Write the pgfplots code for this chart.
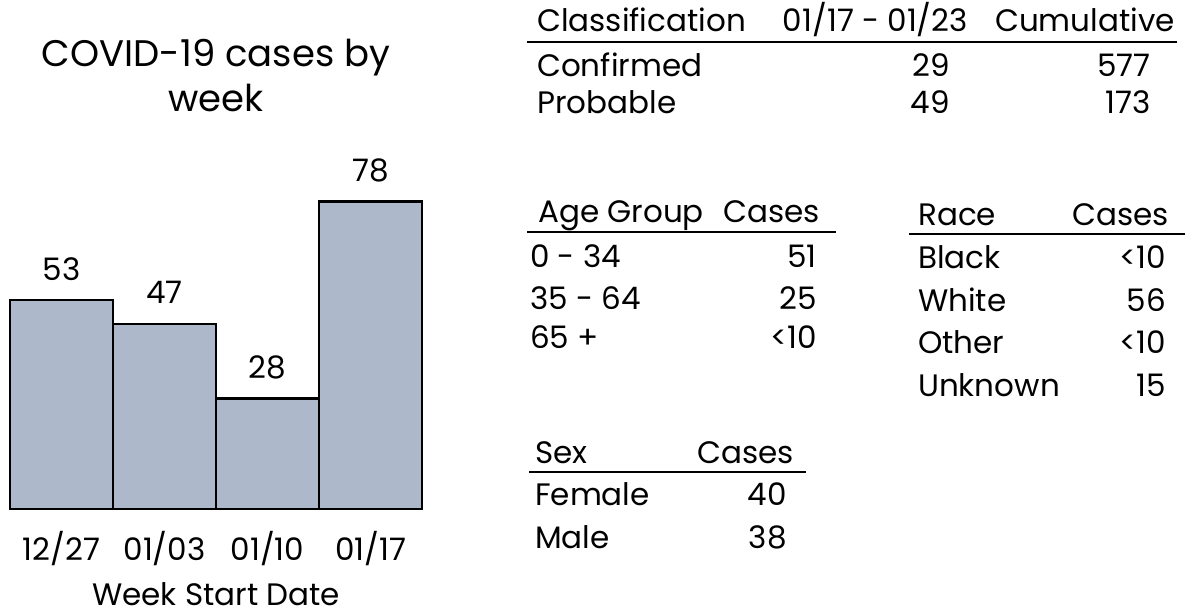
\documentclass[border=0pt]{standalone}
\usepackage{pgfplots}
\pgfplotsset{compat=1.18}
\usepackage{fontspec}
\setmainfont{Poppins}
\definecolor{barfill}{RGB}{173,184,202}
\newcommand{\tf}{\fontsize{31}{36}\selectfont}
\begin{document}
\begin{tikzpicture}[x=1pt,y=1pt]
\useasboundingbox (0,0) rectangle (1185,614);
\begin{axis}[
  at={(10pt,105pt)}, anchor=south west,
  scale only axis, width=412pt, height=315.2pt,
  xmin=-0.5, xmax=3.5, ymin=0, ymax=80,
  axis line style={draw=none},
  major tick length=0pt,
  ytick=\empty,
  xtick=data,
  xticklabels={12/27,01/03,01/10,01/17},
  xticklabel style={font=\tf, anchor=base, yshift=-51pt},
  ybar, bar width=1,
  /pgf/number format/assume math mode=true,
  nodes near coords,
  every node near coord/.append style={font=\tf, anchor=base, yshift=20pt},
  clip=false,
]
\addplot[draw=black, line width=2.5pt, fill=barfill] coordinates {(0,53) (1,47) (2,28) (3,78)};
\end{axis}
% title and x label
\node[font=\fontsize{37}{42}\selectfont, anchor=base] at (216,614-67) {COVID-19 cases by};
\node[font=\fontsize{37}{42}\selectfont, anchor=base] at (216,614-112) {week};
\node[font=\tf, anchor=base, inner sep=0] at (216,614-605) {Week Start Date};
% top table
\node[font=\tf, anchor=base west, inner sep=0] at (537,614-32) {Classification};
\node[font=\tf, anchor=base east, inner sep=0] at (968,614-32) {01/17 - 01/23};
\node[font=\tf, anchor=base east, inner sep=0] at (1175,614-32) {Cumulative};
\draw[line width=2.5pt] (527,614-42) -- (1177,614-42);
\node[font=\tf, anchor=base west, inner sep=0] at (537,614-77) {Confirmed};
\node[font=\tf, anchor=base east, inner sep=0] at (950,614-77) {29};
\node[font=\tf, anchor=base east, inner sep=0] at (1151,614-77) {577};
\node[font=\tf, anchor=base west, inner sep=0] at (537,614-114) {Probable};
\node[font=\tf, anchor=base east, inner sep=0] at (950,614-114) {49};
\node[font=\tf, anchor=base east, inner sep=0] at (1151,614-114) {173};
% age table
\node[font=\tf, anchor=base west, inner sep=0] at (538,614-223) {Age Group};
\node[font=\tf, anchor=base east, inner sep=0] at (820,614-223) {Cases};
\draw[line width=2.5pt] (527,614-232) -- (836,614-232);
\node[font=\tf, anchor=base west, inner sep=0] at (530,614-267) {0 - 34};
\node[font=\tf, anchor=base east, inner sep=0] at (817,614-267) {51};
\node[font=\tf, anchor=base west, inner sep=0] at (530,614-309) {35 - 64};
\node[font=\tf, anchor=base east, inner sep=0] at (817,614-309) {25};
\node[font=\tf, anchor=base west, inner sep=0] at (530,614-348) {65 +};
\node[font=\tf, anchor=base east, inner sep=0] at (817,614-348) {<10};
% race table
\node[font=\tf, anchor=base west, inner sep=0] at (918,614-226) {Race};
\node[font=\tf, anchor=base east, inner sep=0] at (1169,614-226) {Cases};
\draw[line width=2.5pt] (909,614-234) -- (1185,614-234);
\node[font=\tf, anchor=base west, inner sep=0] at (918,614-269) {Black};
\node[font=\tf, anchor=base east, inner sep=0] at (1166,614-269) {<10};
\node[font=\tf, anchor=base west, inner sep=0] at (918,614-311) {White};
\node[font=\tf, anchor=base east, inner sep=0] at (1166,614-311) {56};
\node[font=\tf, anchor=base west, inner sep=0] at (918,614-353) {Other};
\node[font=\tf, anchor=base east, inner sep=0] at (1166,614-353) {<10};
\node[font=\tf, anchor=base west, inner sep=0] at (918,614-396) {Unknown};
\node[font=\tf, anchor=base east, inner sep=0] at (1166,614-396) {15};
% sex table
\node[font=\tf, anchor=base west, inner sep=0] at (535,614-463) {Sex};
\node[font=\tf, anchor=base east, inner sep=0] at (794,614-463) {Cases};
\draw[line width=2.5pt] (529,614-472) -- (806,614-472);
\node[font=\tf, anchor=base west, inner sep=0] at (535,614-505) {Female};
\node[font=\tf, anchor=base east, inner sep=0] at (787,614-505) {40};
\node[font=\tf, anchor=base west, inner sep=0] at (535,614-548) {Male};
\node[font=\tf, anchor=base east, inner sep=0] at (787,614-548) {38};
\end{tikzpicture}
\end{document}
